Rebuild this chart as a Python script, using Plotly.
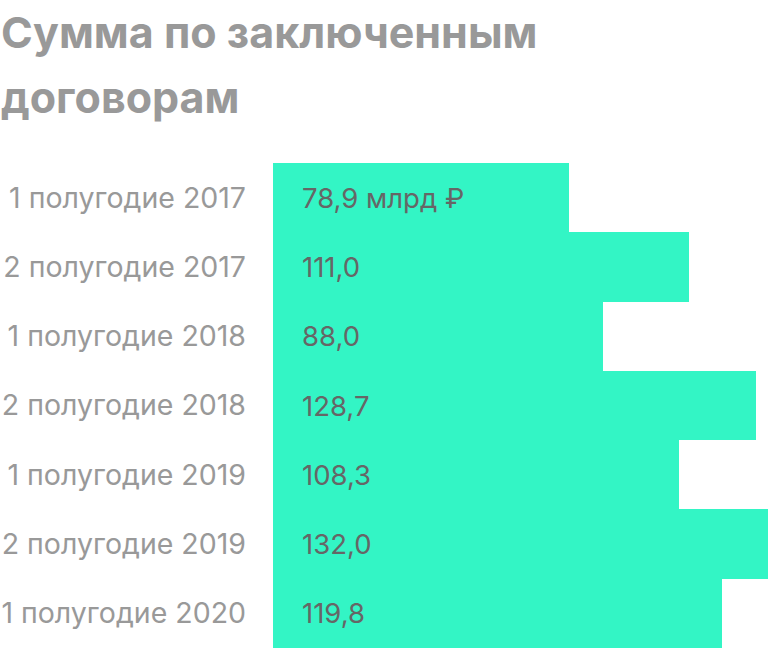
import plotly.graph_objects as go

# data
periods = ['1 полугодие 2017', '2 полугодие 2017', '1 полугодие 2018', '2 полугодие 2018',
           '1 полугодие 2019', '2 полугодие 2019', '1 полугодие 2020']
amounts = [78.9, 111.0, 88.0, 128.7, 108.3, 132.0, 119.8]
unit = ' млрд ₽'
title_lines = ['Сумма по заключенным', 'договорам']

W, H = 768, 649
ML, MT, MB = 273, 163, 1
plot_h = H - MT - MB
FONT = 'Inter'

def py(y_px):
    # pixel row -> paper y
    return (H - MB - y_px) / plot_h

def px_(x_px):
    return (x_px - ML) / (W - ML)

labels = [f'{v:.1f}'.replace('.', ',') for v in amounts]
labels[0] = labels[0] + unit

fig = go.Figure(go.Bar(
    x=amounts, y=periods, orientation='h',
    marker=dict(color='#33F5C5', line=dict(width=0)),
    hoverinfo='skip',
))

for p, t in zip(periods, labels):
    fig.add_annotation(x=0, y=p, xref='x', yref='y', text=t, showarrow=False,
                       xanchor='left', yanchor='middle', xshift=27,
                       font=dict(family=FONT, size=27.5, color='#666666'))

for i, line in enumerate(title_lines):
    fig.add_annotation(x=px_(-1), y=py(32 + 65 * i), xref='paper', yref='paper', text='<b>' + line + '</b>',
                       showarrow=False, xanchor='left', yanchor='middle',
                       font=dict(family=FONT, size=43, color='#999999'))

fig.update_layout(
    width=W, height=H,
    margin=dict(l=ML, r=0, t=MT, b=MB, pad=0),
    paper_bgcolor='white', plot_bgcolor='white',
    bargap=0, showlegend=False,
    xaxis=dict(range=[0, 132], visible=False, fixedrange=True),
    yaxis=dict(autorange='reversed', showgrid=False, zeroline=False, showline=False,
               ticks='', ticklabelstandoff=26, fixedrange=True,
               tickfont=dict(family=FONT, size=28.5, color='#999999')),
)

# page body has a default 8px margin; drop it so the figure sits at the window corner
fig.write_html('out.html', config={'displayModeBar': False},
               post_script="document.body.style.margin='0';")
